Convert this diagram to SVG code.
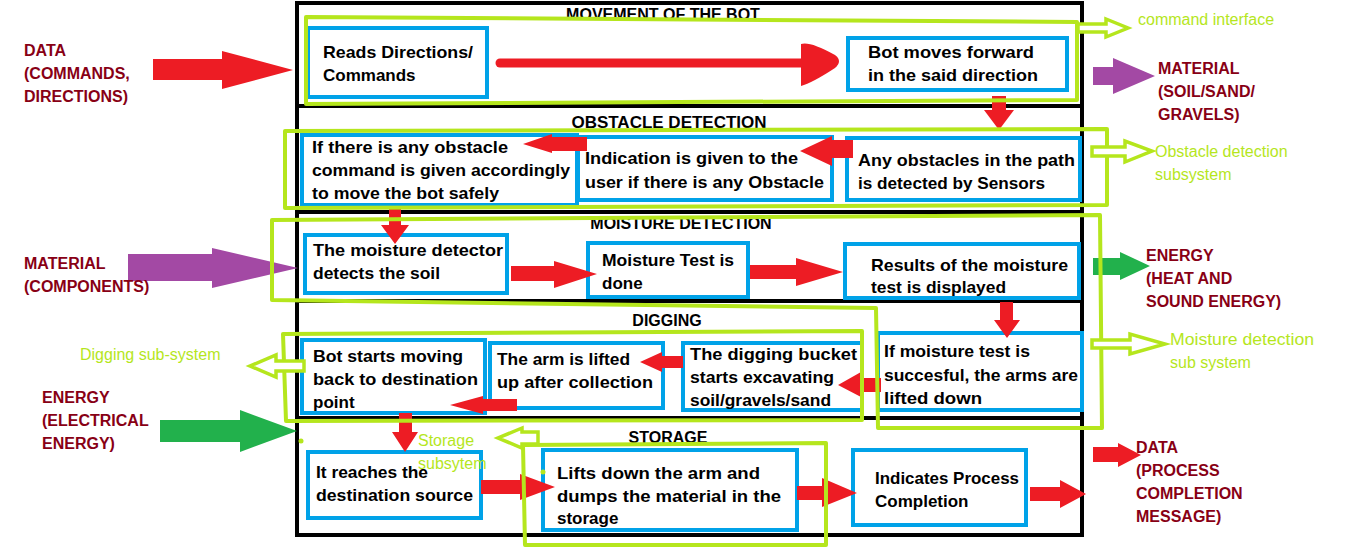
<svg xmlns="http://www.w3.org/2000/svg" width="1360" height="556" viewBox="0 0 1360 556">
<style>
.frame{fill:none;stroke:#000;stroke-width:4}
.box{fill:#fff;stroke:#00a2e8;stroke-width:4}
.t{font-family:"Liberation Sans",Arial,sans-serif;font-weight:bold;font-size:17px;fill:#000}
.h{font-family:"Liberation Sans",Arial,sans-serif;font-weight:bold;font-size:16px;fill:#000;text-anchor:middle}
.ext{font-family:"Liberation Sans",Arial,sans-serif;font-weight:bold;font-size:16px;fill:#880015}
.gl{font-family:"Liberation Sans",Arial,sans-serif;font-size:16px;fill:#b5e61d}
.sub{fill:none;stroke:#b5e61d;stroke-width:4;stroke-linejoin:round}
.hol{fill:#fff;stroke:#b5e61d;stroke-width:3.5}
.red{fill:#ed1c24}
.pur{fill:#a349a4}
.grn{fill:#22b14c}
</style>
<rect width="1360" height="556" fill="#fff"/>
<g id="frame">
<rect class="frame" x="297" y="3" width="785" height="532"/>
<line class="frame" x1="297" y1="106" x2="1082" y2="106"/>
<line class="frame" x1="297" y1="212" x2="1082" y2="212"/>
<line class="frame" x1="297" y1="301" x2="1082" y2="301"/>
<line class="frame" x1="297" y1="418" x2="1082" y2="418"/>
<text class="h" x="663" y="20">MOVEMENT OF THE BOT</text>
<text class="h" x="669" y="128" style="font-size:17px">OBSTACLE DETECTION</text>
<text class="h" x="681" y="229">MOISTURE DETECTION</text>
<text class="h" x="667" y="326">DIGGING</text>
<text class="h" x="668" y="443">STORAGE</text>
</g>
<g id="n-reads"><rect class="box" x="308" y="28" width="179" height="69"/><text class="t" x="323" y="58" textLength="150" lengthAdjust="spacingAndGlyphs">Reads Directions/</text><text class="t" x="323" y="81">Commands</text></g>
<g id="n-botmoves"><rect class="box" x="848" y="38" width="219" height="52"/><text class="t" x="868" y="58" textLength="166" lengthAdjust="spacingAndGlyphs">Bot moves forward</text><text class="t" x="868" y="81" textLength="170" lengthAdjust="spacingAndGlyphs">in the said direction</text></g>
<g id="n-ifobstacle"><rect class="box" x="302" y="135" width="275" height="70"/><text class="t" x="312" y="153" textLength="196" lengthAdjust="spacingAndGlyphs">If there is any obstacle</text><text class="t" x="312" y="176" textLength="258" lengthAdjust="spacingAndGlyphs">command is given accordingly</text><text class="t" x="312" y="199" textLength="187" lengthAdjust="spacingAndGlyphs">to move the bot safely</text></g>
<g id="n-indication"><rect class="box" x="578" y="137" width="254" height="63"/><text class="t" x="585" y="164" textLength="213" lengthAdjust="spacingAndGlyphs">Indication is given to the</text><text class="t" x="585" y="188" textLength="239" lengthAdjust="spacingAndGlyphs">user if there is any Obstacle</text></g>
<g id="n-anyobstacles"><rect class="box" x="847" y="138" width="233" height="62"/><text class="t" x="858" y="166" textLength="217" lengthAdjust="spacingAndGlyphs">Any obstacles in the path</text><text class="t" x="858" y="189" textLength="187" lengthAdjust="spacingAndGlyphs">is detected by Sensors</text></g>
<g id="n-moisturedetector"><rect class="box" x="305" y="235" width="202" height="58"/><text class="t" x="313" y="256" textLength="190" lengthAdjust="spacingAndGlyphs">The moisture detector</text><text class="t" x="313" y="279" textLength="127" lengthAdjust="spacingAndGlyphs">detects the soil</text></g>
<g id="n-moisturetest"><rect class="box" x="588" y="243" width="160" height="54"/><text class="t" x="602" y="266" textLength="132" lengthAdjust="spacingAndGlyphs">Moisture Test is</text><text class="t" x="602" y="289">done</text></g>
<g id="n-results"><rect class="box" x="845" y="244" width="234" height="54"/><text class="t" x="871" y="271" textLength="197" lengthAdjust="spacingAndGlyphs">Results of the moisture</text><text class="t" x="871" y="293" textLength="135" lengthAdjust="spacingAndGlyphs">test is displayed</text></g>
<g id="n-ifmoisture"><rect class="box" x="878" y="333" width="204" height="77"/><text class="t" x="884" y="357" textLength="146" lengthAdjust="spacingAndGlyphs">If moisture test is</text><text class="t" x="884" y="381" textLength="194" lengthAdjust="spacingAndGlyphs">succesful, the arms are</text><text class="t" x="884" y="404" textLength="98" lengthAdjust="spacingAndGlyphs">lifted down</text></g>
<g id="n-bucket"><rect class="box" x="683" y="343" width="179" height="67"/><text class="t" x="690" y="360" textLength="167" lengthAdjust="spacingAndGlyphs">The digging bucket</text><text class="t" x="690" y="383" textLength="144" lengthAdjust="spacingAndGlyphs">starts excavating</text><text class="t" x="690" y="406" textLength="141" lengthAdjust="spacingAndGlyphs">soil/gravels/sand</text></g>
<g id="n-armlifted"><rect class="box" x="490" y="343" width="173" height="65"/><text class="t" x="497" y="365" textLength="133" lengthAdjust="spacingAndGlyphs">The arm is lifted</text><text class="t" x="497" y="388" textLength="156" lengthAdjust="spacingAndGlyphs">up after collection</text></g>
<g id="n-botstarts"><rect class="box" x="302" y="340" width="183" height="73"/><text class="t" x="313" y="362" textLength="150" lengthAdjust="spacingAndGlyphs">Bot starts moving</text><text class="t" x="313" y="385" textLength="165" lengthAdjust="spacingAndGlyphs">back to destination</text><text class="t" x="313" y="408">point</text></g>
<g id="n-reaches"><rect class="box" x="308" y="452" width="173" height="66"/><text class="t" x="316" y="478" textLength="112" lengthAdjust="spacingAndGlyphs">It reaches the</text><text class="t" x="316" y="501" textLength="157" lengthAdjust="spacingAndGlyphs">destination source</text></g>
<g id="n-lifts"><rect class="box" x="543" y="450" width="254" height="80"/><text class="t" x="557" y="479" textLength="203" lengthAdjust="spacingAndGlyphs">Lifts down the arm and</text><text class="t" x="557" y="502" textLength="224" lengthAdjust="spacingAndGlyphs">dumps the material in the</text><text class="t" x="557" y="524">storage</text></g>
<g id="n-indicates"><rect class="box" x="853" y="450" width="173" height="75"/><text class="t" x="875" y="484" textLength="144" lengthAdjust="spacingAndGlyphs">Indicates Process</text><text class="t" x="875" y="507">Completion</text></g>
<g id="connectors">
<line x1="500" y1="63" x2="805" y2="63" stroke="#ed1c24" stroke-width="9" stroke-linecap="round"/>
<path class="red" d="M801,44 Q810,41 835,55 Q843,61 835,68 Q812,83 801,86 Z"/>
<polygon class="red" points="992,96 1006,96 1006,110 1014,110 999,130 984,110 992,110"/>
<polygon class="red" points="853,140 832,140 832,136 800,151 832,166 832,158 853,158"/>
<polygon class="red" points="587,137 552,137 552,134 523,144 552,153 552,151 587,151"/>
<polygon class="red" points="389,208 401,208 401,225 409,225 395,244 381,225 389,225"/>
<polygon class="red" points="511,266 554,266 554,261 597,274 554,288 554,281 511,281"/>
<polygon class="red" points="750,265 796,265 796,258 843,272 796,286 796,279 750,279"/>
<polygon class="red" points="1000,302 1013,302 1013,320 1020,320 1007,338 994,320 1000,320"/>
<polygon class="red" points="881,378 861,378 861,372 838,385 861,397 861,392 881,392"/>
<polygon class="red" points="683,356 662,356 662,352 640,362 662,372 662,368 683,368"/>
<polygon class="red" points="517,399 483,399 483,396 450,405 483,414 483,411 517,411"/>
<polygon class="red" points="399,413 412,413 412,432 418,432 405,452 392,432 399,432"/>
<polygon class="red" points="481,480 520,480 520,474 555,487 520,500 520,494 481,494"/>
<polygon class="red" points="797,486 822,486 822,478 857,493 822,507 822,500 797,500"/>
<polygon class="red" points="1030,487 1060,487 1060,480 1086,494 1060,508 1060,501 1030,501"/>
<polygon class="red" points="153,59 222,59 222,51 293,70 222,89 222,80 153,80"/>
<polygon class="red" points="1093,447 1118,447 1118,443 1141,455 1118,467 1118,462 1093,462"/>
<polygon class="pur" points="1093,67 1113,67 1113,58 1155,76 1113,94 1113,85 1093,85"/>
<polygon class="pur" points="128,254 212,254 212,248 298,268 212,288 212,281 128,281"/>
<polygon class="grn" points="1093,258 1120,258 1120,252 1150,266 1120,280 1120,275 1093,275"/>
<polygon class="grn" points="160,420 240,420 240,410 297,431 240,452 240,442 160,442"/>
</g>
<g id="subsystems">
<polygon class="sub" points="306,17 1077,22 1077,100 306,104"/>
<polygon class="sub" points="285,131 1107,129 1107,205 285,208"/>
<polygon class="sub" points="272,220 1100,215 1102,428 878,428 876,308 272,300"/>
<polygon class="sub" points="283,334 862,331 862,420 286,421"/>
<polygon class="sub" points="523,445 826,443 826,545 525,545"/>
<circle cx="301" cy="441" r="2.5" fill="#b5e61d"/>
<circle cx="543" cy="472" r="2.5" fill="#b5e61d"/>
</g>
<g id="labels">
<text class="ext" x="24" y="56">DATA</text><text class="ext" x="24" y="79">(COMMANDS,</text><text class="ext" x="24" y="102">DIRECTIONS)</text>
<text class="ext" x="1158" y="74">MATERIAL</text><text class="ext" x="1158" y="97">(SOIL/SAND/</text><text class="ext" x="1158" y="120">GRAVELS)</text>
<text class="ext" x="24" y="269">MATERIAL</text><text class="ext" x="24" y="292">(COMPONENTS)</text>
<text class="ext" x="1146" y="261">ENERGY</text><text class="ext" x="1146" y="284">(HEAT AND</text><text class="ext" x="1146" y="307">SOUND ENERGY)</text>
<text class="ext" x="42" y="403">ENERGY</text><text class="ext" x="42" y="426">(ELECTRICAL</text><text class="ext" x="42" y="449">ENERGY)</text>
<text class="ext" x="1136" y="453">DATA</text><text class="ext" x="1136" y="476">(PROCESS</text><text class="ext" x="1136" y="499">COMPLETION</text><text class="ext" x="1136" y="522">MESSAGE)</text>
</g>
<g id="subsystem-labels">
<polygon class="hol" points="1078,24 1106,24 1106,19 1128,28 1106,37 1106,32 1078,32"/>
<text class="gl" x="1138" y="25">command interface</text>
<polygon class="hol" points="1092,147 1125,147 1125,141 1152,151 1125,162 1125,156 1092,156"/>
<text class="gl" x="1155" y="157">Obstacle detection</text><text class="gl" x="1155" y="180">subsystem</text>
<polygon class="hol" points="1092,340 1130,340 1130,334 1165,344 1130,354 1130,348 1092,348"/>
<text class="gl" x="1170" y="345" textLength="144" lengthAdjust="spacingAndGlyphs">Moisture detection</text><text class="gl" x="1170" y="368">sub system</text>
<polygon class="hol" points="304,361 276,361 276,355 250,366 276,377 276,371 304,371"/>
<text class="gl" x="80" y="360">Digging sub-system</text>
<polygon class="hol" points="538,432 522,432 522,428 498,438 522,448 522,444 538,444"/>
<text class="gl" x="418" y="446">Storage</text><text class="gl" x="418" y="469">subsytem</text>
</g>
</svg>
